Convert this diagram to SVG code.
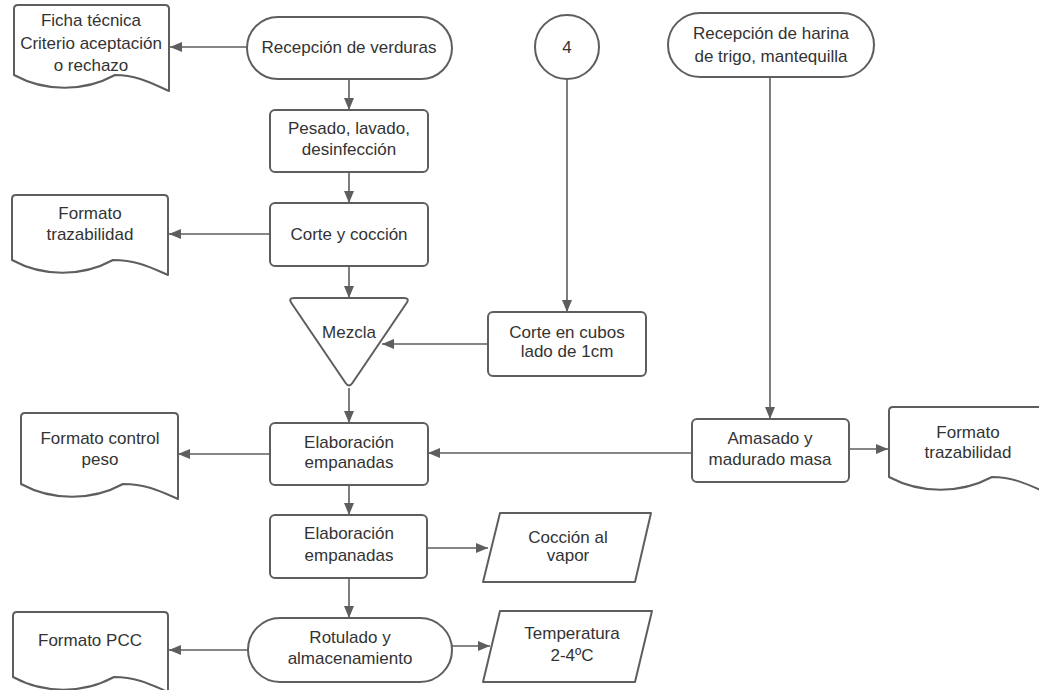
<svg xmlns="http://www.w3.org/2000/svg" width="1039" height="690" viewBox="0 0 1039 690">
  <style>
    .shape { fill: #ffffff; stroke: #5e5e5e; stroke-width: 2; stroke-linejoin: round; }
    .conn { fill: none; stroke: #5e5e5e; stroke-width: 1.6; }
    text { font-family: "Liberation Sans", Arial, sans-serif; font-size: 17px; fill: #333333; text-anchor: middle; }
  </style>
  <defs>
    <marker id="arrow" viewBox="0 0 12 10" refX="12" refY="5" markerWidth="12" markerHeight="10" markerUnits="userSpaceOnUse" orient="auto">
      <path d="M0,0 L12,5 L0,10 z" fill="#5e5e5e"/>
    </marker>
  </defs>
  <rect width="1039" height="690" fill="#ffffff"/>

  <!-- connectors -->
  <g id="connectors">
    <line class="conn" x1="247" y1="47" x2="170" y2="47" marker-end="url(#arrow)"/>
    <line class="conn" x1="349" y1="79" x2="349" y2="110" marker-end="url(#arrow)"/>
    <line class="conn" x1="349" y1="172" x2="349" y2="203" marker-end="url(#arrow)"/>
    <line class="conn" x1="270" y1="234" x2="169" y2="234" marker-end="url(#arrow)"/>
    <line class="conn" x1="349" y1="266" x2="349" y2="298" marker-end="url(#arrow)"/>
    <line class="conn" x1="567" y1="79" x2="567" y2="312" marker-end="url(#arrow)"/>
    <line class="conn" x1="488" y1="344" x2="382" y2="344" marker-end="url(#arrow)"/>
    <line class="conn" x1="349" y1="388" x2="349" y2="423" marker-end="url(#arrow)"/>
    <line class="conn" x1="770" y1="77" x2="770" y2="419" marker-end="url(#arrow)"/>
    <line class="conn" x1="692" y1="453" x2="428" y2="453" marker-end="url(#arrow)"/>
    <line class="conn" x1="849" y1="449" x2="888" y2="449" marker-end="url(#arrow)"/>
    <line class="conn" x1="270" y1="454" x2="178" y2="454" marker-end="url(#arrow)"/>
    <line class="conn" x1="349" y1="485" x2="349" y2="515" marker-end="url(#arrow)"/>
    <line class="conn" x1="427" y1="548" x2="488" y2="548" marker-end="url(#arrow)"/>
    <line class="conn" x1="349" y1="578" x2="349" y2="618" marker-end="url(#arrow)"/>
    <line class="conn" x1="452" y1="646" x2="490" y2="646" marker-end="url(#arrow)"/>
    <line class="conn" x1="248" y1="650" x2="169" y2="650" marker-end="url(#arrow)"/>
  </g>

  <!-- documents -->
  <g id="doc-ficha">
    <path class="shape" d="M14,9 Q14,5 18,5 H165 Q169,5 169,9 V91 C153,84 138,75 115,75 C84,92 45,92 14,75 Z"/>
    <text x="91" y="26">Ficha técnica</text>
    <text x="91" y="49">Criterio aceptación</text>
    <text x="91" y="71">o rechazo</text>
  </g>
  <g id="doc-trazabilidad-1">
    <path class="shape" d="M12,199 Q12,195 16,195 H164 Q168,195 168,199 V275 C152,268 137,260 113,260 C82,277 43,277 12,260 Z"/>
    <text x="90" y="219">Formato</text>
    <text x="90" y="240">trazabilidad</text>
  </g>
  <g id="doc-control-peso">
    <path class="shape" d="M21,417 Q21,413 25,413 H174 Q178,413 178,417 V499 C162,492 147,484 123,484 C92,501 52,501 21,484 Z"/>
    <text x="100" y="444">Formato control</text>
    <text x="100" y="465">peso</text>
  </g>
  <g id="doc-pcc">
    <path class="shape" d="M13,616 Q13,612 17,612 H164 Q168,612 168,616 V692 C152,685 137,677 114,677 C83,694 44,694 13,677 Z"/>
    <text x="90" y="646">Formato PCC</text>
  </g>
  <g id="doc-trazabilidad-2">
    <path class="shape" d="M889,411 Q889,407 893,407 H1043 Q1047,407 1047,411 V493 C1031,486 1015,477 992,477 C960,494 921,494 889,477 Z"/>
    <text x="968" y="438">Formato</text>
    <text x="968" y="458">trazabilidad</text>
  </g>

  <!-- terminals -->
  <g id="recepcion-verduras">
    <rect class="shape" x="247" y="17" width="205" height="62" rx="31"/>
    <text x="349" y="53">Recepción de verduras</text>
  </g>
  <g id="recepcion-harina">
    <rect class="shape" x="668" y="13" width="206" height="64" rx="32"/>
    <text x="771" y="39">Recepción de harina</text>
    <text x="771" y="62">de trigo, mantequilla</text>
  </g>
  <g id="rotulado">
    <rect class="shape" x="248" y="618" width="204" height="64" rx="32"/>
    <text x="350" y="643">Rotulado y</text>
    <text x="350" y="664">almacenamiento</text>
  </g>

  <!-- connector circle -->
  <g id="ref-4">
    <circle class="shape" cx="567" cy="47" r="32"/>
    <text x="567" y="53">4</text>
  </g>

  <!-- process steps -->
  <g id="pesado">
    <rect class="shape" x="270" y="110" width="158" height="62" rx="5"/>
    <text x="349" y="134">Pesado, lavado,</text>
    <text x="349" y="155">desinfección</text>
  </g>
  <g id="corte-coccion">
    <rect class="shape" x="270" y="203" width="158" height="63" rx="5"/>
    <text x="349" y="240">Corte y cocción</text>
  </g>
  <g id="mezcla">
    <!-- merge triangle with softened corners -->
    <path class="shape" d="M294,298 H404 Q410,298 406.6,303 L352.4,383 Q349,388 345.6,383 L291.4,303 Q288,298 294,298 Z"/>
    <text x="349" y="338">Mezcla</text>
  </g>
  <g id="corte-cubos">
    <rect class="shape" x="488" y="312" width="158" height="64" rx="5"/>
    <text x="567" y="338">Corte en cubos</text>
    <text x="567" y="357">lado de 1cm</text>
  </g>
  <g id="amasado">
    <rect class="shape" x="692" y="419" width="157" height="63" rx="5"/>
    <text x="770" y="444">Amasado y</text>
    <text x="770" y="465">madurado masa</text>
  </g>
  <g id="elaboracion-1">
    <rect class="shape" x="270" y="423" width="158" height="62" rx="5"/>
    <text x="349" y="448">Elaboración</text>
    <text x="349" y="468">empanadas</text>
  </g>
  <g id="elaboracion-2">
    <rect class="shape" x="270" y="515" width="157" height="63" rx="5"/>
    <text x="349" y="539">Elaboración</text>
    <text x="349" y="561">empanadas</text>
  </g>

  <!-- data / parameters -->
  <g id="coccion-vapor">
    <polygon class="shape" points="500,513 651,513 635,582 483,582"/>
    <text x="568" y="543">Cocción al</text>
    <text x="568" y="561">vapor</text>
  </g>
  <g id="temperatura">
    <polygon class="shape" points="500,611 652,611 635,682 483,682"/>
    <text x="572" y="639">Temperatura</text>
    <text x="572" y="661">2-4ºC</text>
  </g>
</svg>
